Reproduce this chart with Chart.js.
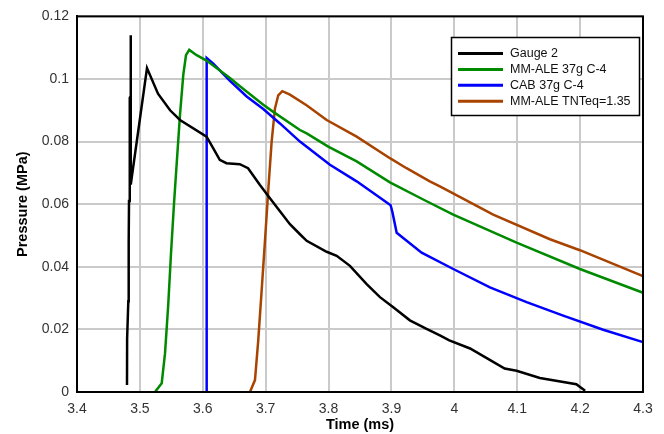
<!DOCTYPE html>
<html>
<head>
<meta charset="utf-8">
<script src="https://cdn.jsdelivr.net/npm/chart.js@4"></script>
<style>
  html, body { margin: 0; padding: 0; background: #ffffff; }
  #wrap { width: 664px; height: 434px; }
</style>
</head>
<body>
<div id="wrap"><canvas id="c" width="664" height="434"></canvas></div>
<script>
// ---- Data ----
const seriesNames = ["Gauge 2", "MM-ALE 37g C-4", "CAB 37g C-4", "MM-ALE TNTeq=1.35"];

const gaugeTime = [3.4795, 3.4797, 3.4816, 3.4822, 3.4827, 3.4838, 3.4840, 3.4852, 3.4854, 3.4856,
  3.5113, 3.5288, 3.548, 3.5638, 3.606, 3.6165, 3.627, 3.6376, 3.6588, 3.672, 3.6906, 3.7065,
  3.7224, 3.7386, 3.7545, 3.7652, 3.797, 3.8129, 3.834, 3.8606, 3.8817, 3.9029, 3.9293, 3.9558,
  3.977, 3.992, 4.025, 4.057, 4.080, 4.099, 4.136, 4.194, 4.208];
const gaugeP = [0.0022, 0.0171, 0.029, 0.0477, 0.061, 0.0663, 0.094, 0.0945, 0.114, 0.0663,
  0.1035, 0.0953, 0.090, 0.0869, 0.0816, 0.0779, 0.0742, 0.0731, 0.0728, 0.0715, 0.0662, 0.062,
  0.0578, 0.0536, 0.0504, 0.0483, 0.0448, 0.0435, 0.0403, 0.0345, 0.0303, 0.0271, 0.0229, 0.0202,
  0.0181, 0.0165, 0.0139, 0.0102, 0.0075, 0.0068, 0.0045, 0.0025, 0.0004];

const aleTime = [3.524, 3.5347, 3.540, 3.5451, 3.5494, 3.5542, 3.5595, 3.5638, 3.569, 3.5733,
  3.5785, 3.5903, 3.606, 3.6432, 3.6591, 3.6962, 3.7121, 3.7545, 3.7652, 3.7995, 3.8447, 3.8976,
  3.9505, 3.9983, 4.099, 4.1997, 4.299];
const aleP = [0.0, 0.0028, 0.0124, 0.028, 0.044, 0.060, 0.0759, 0.0886, 0.1013, 0.1076,
  0.1093, 0.1076, 0.1059, 0.1003, 0.0977, 0.0918, 0.0895, 0.0837, 0.0826, 0.0784, 0.0737, 0.0670,
  0.0615, 0.0567, 0.0477, 0.0393, 0.0318];

const cabTime = [3.6062, 3.6062, 3.6167, 3.6432, 3.6698, 3.6962, 3.7227, 3.7545, 3.8022, 3.8447,
  3.8987, 3.9015, 3.9083, 3.948, 3.9983, 4.0566, 4.1149, 4.1731, 4.2367, 4.2987];
const cabP = [0.0, 0.1067, 0.1049, 0.0994, 0.0944, 0.0904, 0.0858, 0.080, 0.0726, 0.0673,
  0.0597, 0.0575, 0.0509, 0.0445, 0.0393, 0.0334, 0.0287, 0.0244, 0.0199, 0.016];

const tntTime = [3.675, 3.683, 3.6882, 3.6936, 3.6989, 3.704, 3.7095, 3.7148, 3.72, 3.7265,
  3.7386, 3.765, 3.797, 3.8447, 3.8976, 3.924, 3.961, 3.977, 4.0618, 4.152, 4.1997, 4.299];
const tntP = [0.0, 0.0038, 0.0165, 0.0324, 0.0483, 0.0641, 0.080, 0.0906, 0.0948, 0.0961,
  0.0950, 0.0916, 0.0869, 0.0816, 0.0747, 0.0715, 0.0673, 0.0657, 0.0567, 0.0488, 0.0453, 0.0371];

const xTicks = [3.4, 3.5, 3.6, 3.7, 3.8, 3.9, 4.0, 4.1, 4.2, 4.3];
const yTicks = [0, 0.02, 0.04, 0.06, 0.08, 0.1, 0.12];

const seriesColors = ["#000000", "#008a00", "#0000ff", "#a84300"];

// ---- Build datasets ----
function pts(ts, ps) { return ts.map((t, i) => ({ x: t, y: ps[i] })); }
const allSeries = [pts(gaugeTime, gaugeP), pts(aleTime, aleP), pts(cabTime, cabP), pts(tntTime, tntP)];

const datasets = allSeries.map((d, i) => ({
  label: seriesNames[i],
  data: d,
  borderColor: seriesColors[i],
  backgroundColor: seriesColors[i],
  borderWidth: 2.5,
  pointRadius: 0,
  tension: 0,
  fill: false
}));

// ---- Plugins ----
const framePlugin = {
  id: 'frame',
  afterDatasetsDraw(chart) {
    const { ctx, chartArea: a } = chart;
    ctx.save();
    ctx.strokeStyle = '#000';
    ctx.lineWidth = 2;
    ctx.strokeRect(a.left, a.top, a.right - a.left, a.bottom - a.top);
    ctx.restore();
  }
};

const boxLegend = {
  id: 'boxLegend',
  afterDraw(chart) {
    const { ctx } = chart;
    const bx = 451, by = 37, bw = 188, bh = 78;
    ctx.save();
    ctx.fillStyle = '#ffffff';
    ctx.fillRect(bx, by, bw, bh);
    ctx.strokeStyle = '#000';
    ctx.lineWidth = 1.5;
    ctx.strokeRect(bx + 0.5, by + 0.5, bw, bh);
    ctx.font = '12.5px "Liberation Sans", Arial, sans-serif';
    ctx.textBaseline = 'middle';
    chart.data.datasets.forEach((ds, i) => {
      const y = 53.5 + i * 15.9;
      ctx.strokeStyle = ds.borderColor;
      ctx.lineWidth = 3;
      ctx.beginPath();
      ctx.moveTo(458, y);
      ctx.lineTo(503, y);
      ctx.stroke();
      ctx.fillStyle = '#111';
      ctx.fillText(ds.label, 510, y + 0.5);
    });
    ctx.restore();
  }
};

new Chart(document.getElementById('c'), {
  type: 'line',
  data: { datasets },
  options: {
    responsive: false,
    animation: false,
    parsing: true,
    layout: { padding: { top: 14, right: 21, left: 0, bottom: 0 } },
    plugins: { legend: { display: false }, tooltip: { enabled: false } },
    scales: {
      x: {
        type: 'linear',
        min: xTicks[0],
        max: xTicks[xTicks.length - 1],
        afterBuildTicks(scale) { scale.ticks = xTicks.map(v => ({ value: v })); },
        afterFit(scale) { scale.height = 42; },
        grid: { color: '#cacaca', lineWidth: 2, drawTicks: false },
        border: { display: true, color: '#000', width: 2 },
        ticks: {
          padding: 9,
          color: '#333',
          font: { family: '"Liberation Sans", Arial, sans-serif', size: 14 },
          maxRotation: 0,
          callback: v => String(+Number(v).toFixed(1))
        },
        title: {
          display: true,
          text: 'Time (ms)',
          color: '#000',
          font: { family: '"Liberation Sans", Arial, sans-serif', size: 14.5, weight: 'bold' },
          padding: { top: 0, bottom: 0 }
        }
      },
      y: {
        type: 'linear',
        min: yTicks[0],
        max: yTicks[yTicks.length - 1],
        afterBuildTicks(scale) { scale.ticks = yTicks.map(v => ({ value: v })); },
        afterFit(scale) { scale.width = 77; },
        grid: { color: '#cacaca', lineWidth: 2, drawTicks: false },
        border: { display: true, color: '#000', width: 2 },
        ticks: {
          padding: 8,
          color: '#333',
          font: { family: '"Liberation Sans", Arial, sans-serif', size: 14 },
          callback: v => String(+Number(v).toFixed(2))
        },
        title: {
          display: true,
          text: 'Pressure (MPa)',
          color: '#000',
          font: { family: '"Liberation Sans", Arial, sans-serif', size: 14.5, weight: 'bold' },
          padding: { top: 14, bottom: 0 }
        }
      }
    }
  },
  plugins: [framePlugin, boxLegend]
});
</script>
</body>
</html>
